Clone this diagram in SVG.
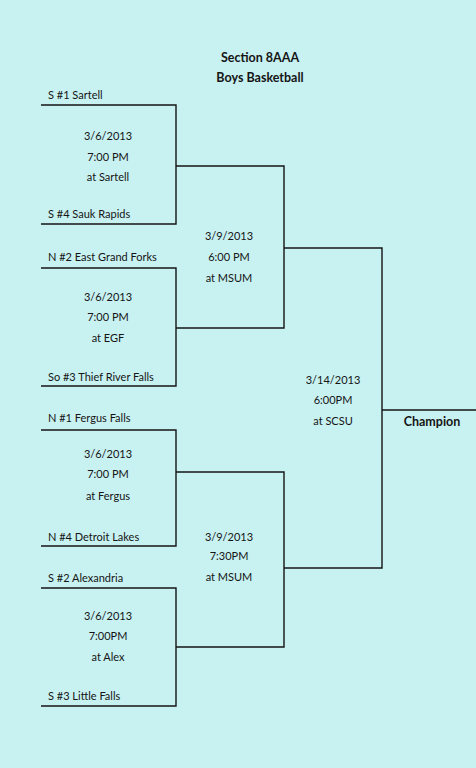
<svg xmlns="http://www.w3.org/2000/svg" width="476" height="768" viewBox="0 0 476 768">
<style>
.t{font-family:Lato,"Open Sans","Liberation Sans",sans-serif;font-size:11px;fill:#151515}
.c{text-anchor:middle}
.b{font-weight:bold;font-size:12.5px}
.ln{fill:none;stroke:#151515;stroke-width:1.4}
</style>
<rect x="0" y="0" width="476" height="768" fill="#c8f1f1"/>
<g id="title">
<text class="t c b" x="260" y="62">Section 8AAA</text>
<text class="t c b" x="260" y="82">Boys Basketball</text>
</g>
<g id="connectors">
<path class="ln" d="M41,105 H176 V224 H41"/>
<path class="ln" d="M41,268 H176 V386 H41"/>
<path class="ln" d="M41,430 H176 V546 H41"/>
<path class="ln" d="M41,588 H176 V706 H41"/>
<path class="ln" d="M176,166 H284 V328 H176"/>
<path class="ln" d="M176,472 H284 V647 H176"/>
<path class="ln" d="M284,248 H382 V568 H284"/>
<path class="ln" d="M382,410 H476"/>
</g>
<g id="game1">
<text class="t" x="48" y="99">S #1 Sartell</text>
<text class="t c" x="108" y="140">3/6/2013</text>
<text class="t c" x="108" y="161">7:00 PM</text>
<text class="t c" x="108" y="181">at Sartell</text>
<text class="t" x="48" y="218">S #4 Sauk Rapids</text>
</g>
<g id="game2">
<text class="t" x="48" y="261">N #2 East Grand Forks</text>
<text class="t c" x="108" y="301">3/6/2013</text>
<text class="t c" x="108" y="321">7:00 PM</text>
<text class="t c" x="108" y="342">at EGF</text>
<text class="t" x="48" y="381">So #3 Thief River Falls</text>
</g>
<g id="game3">
<text class="t" x="48" y="422">N #1 Fergus Falls</text>
<text class="t c" x="108" y="458">3/6/2013</text>
<text class="t c" x="108" y="478">7:00 PM</text>
<text class="t c" x="108" y="500">at Fergus</text>
<text class="t" x="48" y="541">N #4 Detroit Lakes</text>
</g>
<g id="game4">
<text class="t" x="48" y="582">S #2 Alexandria</text>
<text class="t c" x="108" y="620">3/6/2013</text>
<text class="t c" x="108" y="640">7:00PM</text>
<text class="t c" x="108" y="661">at Alex</text>
<text class="t" x="48" y="700">S #3 Little Falls</text>
</g>
<g id="semi1">
<text class="t c" x="229" y="240">3/9/2013</text>
<text class="t c" x="229" y="261">6:00 PM</text>
<text class="t c" x="229" y="282">at MSUM</text>
</g>
<g id="semi2">
<text class="t c" x="229" y="541">3/9/2013</text>
<text class="t c" x="229" y="560">7:30PM</text>
<text class="t c" x="229" y="581">at MSUM</text>
</g>
<g id="final">
<text class="t c" x="333" y="384">3/14/2013</text>
<text class="t c" x="333" y="404">6:00PM</text>
<text class="t c" x="333" y="425">at SCSU</text>
</g>
<g id="champion">
<text class="t c b" x="432" y="426">Champion</text>
</g>
</svg>
